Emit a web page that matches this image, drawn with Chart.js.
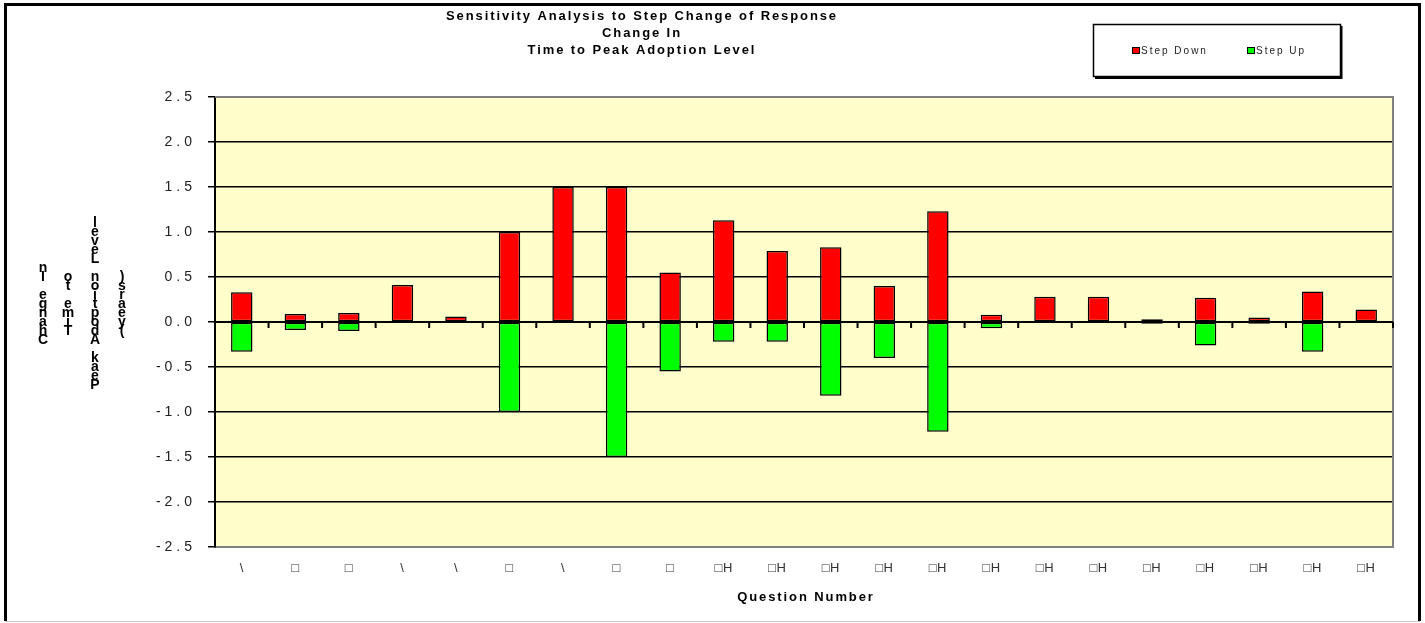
<!DOCTYPE html>
<html>
<head>
<meta charset="utf-8">
<script src="https://cdn.jsdelivr.net/npm/chart.js@4/dist/chart.umd.min.js"></script>
<style>
  html, body { margin: 0; padding: 0; background: #fff; }
  #wrap { width: 1425px; height: 623px; position: relative; }
</style>
</head>
<body>
<div id="wrap"><canvas id="chart"></canvas></div>
<script>
// question labels as they show up in the source picture (broken glyphs)
const questions = ['\\', '\u25A1', '\u25A1', '\\', '\\', '\u25A1', '\\', '\u25A1', '\u25A1',
    '\u25A1H', '\u25A1H', '\u25A1H', '\u25A1H', '\u25A1H', '\u25A1H', '\u25A1H',
    '\u25A1H', '\u25A1H', '\u25A1H', '\u25A1H', '\u25A1H', '\u25A1H'];

const stepDown = [0.33, 0.09, 0.10, 0.41, 0.06, 1.00, 1.50, 1.50, 0.55, 1.13, 0.79,
    0.83, 0.40, 1.23, 0.08, 0.28, 0.28, 0.03, 0.27, 0.05, 0.34, 0.14];
const stepUp = [-0.33, -0.09, -0.10, null, null, -1.00, null, -1.50, -0.55, -0.22, -0.22,
    -0.82, -0.40, -1.22, -0.07, null, null, -0.02, -0.26, -0.02, -0.33, null];

const titleLines = ['Sensitivity Analysis to Step Change of Response', 'Change In', 'Time to Peak Adoption Level'];
const yTitleCols = ['Change In', 'Time to', 'Peak Adoption Level', '(years)'];
const xTitle = 'Question Number';

const FONT = 'Arial, "Liberation Sans", sans-serif';

const decor = {
    id: 'decor',
    beforeDraw(chart) {
        const { ctx, chartArea: a } = chart;
        ctx.save();
        ctx.fillStyle = '#ffffff';
        ctx.fillRect(0, 0, chart.width, chart.height);
        ctx.fillStyle = '#FFFFCC';
        ctx.fillRect(a.left, a.top, a.right - a.left, a.bottom - a.top);
        ctx.restore();
        // spacing for the value axis labels
        ctx.letterSpacing = '4px';
    },
    beforeDatasetsDraw(chart) {
        const { ctx, chartArea: a, scales } = chart;
        ctx.save();
        ctx.letterSpacing = '0px';
        // plot frame (grey) on top and right
        ctx.strokeStyle = '#808080';
        ctx.lineWidth = 2;
        ctx.beginPath();
        ctx.moveTo(a.left, a.top);
        ctx.lineTo(a.right, a.top);
        ctx.lineTo(a.right, a.bottom);
        ctx.stroke();
        // category axis crossing at zero, with ticks between categories
        const y0 = scales.y.getPixelForValue(0);
        ctx.strokeStyle = '#000';
        ctx.lineWidth = 2;
        ctx.beginPath();
        ctx.moveTo(a.left, y0);
        ctx.lineTo(a.right, y0);
        const n = questions.length;
        for (let i = 1; i <= n; i++) {
            const x = i < n
                ? (scales.x.getPixelForValue(i - 1) + scales.x.getPixelForValue(i)) / 2
                : a.right;
            ctx.moveTo(x, y0);
            ctx.lineTo(x, y0 + 6);
        }
        ctx.stroke();
        ctx.restore();
        // x tick labels are drawn after datasets (ticks.z = 1), tighter
        ctx.letterSpacing = '0.5px';
    },
    afterDraw(chart) {
        const { ctx, chartArea: a } = chart;
        ctx.save();
        ctx.fillStyle = '#000';
        ctx.textAlign = 'center';
        ctx.textBaseline = 'middle';

        // title
        ctx.font = 'bold 13px ' + FONT;
        ctx.letterSpacing = '1.9px';
        titleLines.forEach((t, i) => ctx.fillText(t, 642, 16 + i * 17));

        // x title
        ctx.fillText(xTitle, (a.left + a.right) / 2 + 2, 597);

        // y title, stacked letters
        ctx.letterSpacing = '0px';
        ctx.font = 'bold 14px ' + FONT;
        const colX = [43, 68, 95, 122];
        yTitleCols.forEach((s, c) => {
            const chars = s.split('');
            const step = 9;
            const yc = 304;
            chars.forEach((ch, i) => {
                const y = yc + ((chars.length - 1) / 2) * step - i * step;
                ctx.fillText(ch, colX[c], y);
            });
        });

        // legend box
        ctx.lineWidth = 1;
        ctx.strokeStyle = '#000';
        ctx.fillStyle = '#fff';
        ctx.fillRect(1093, 24, 247, 53);
        ctx.lineWidth = 1.5;
        ctx.strokeRect(1093.5, 24.5, 247, 52);
        ctx.lineWidth = 2;
        ctx.beginPath();
        ctx.moveTo(1095, 78);
        ctx.lineTo(1341.5, 78);
        ctx.lineTo(1341.5, 26);
        ctx.stroke();

        ctx.font = '10px ' + FONT;
        ctx.letterSpacing = '2px';
        ctx.textAlign = 'left';
        chart.data.datasets.forEach((ds, i) => {
            const x = i === 0 ? 1133 : 1248;
            ctx.fillStyle = ds.backgroundColor;
            ctx.fillRect(x, 48, 6, 5);
            ctx.lineWidth = 1;
            ctx.strokeStyle = '#000';
            ctx.strokeRect(x - 0.5, 47.5, 7, 6);
            ctx.fillStyle = '#222';
            ctx.fillText(ds.label, x + 8, 51);
        });

        // outer border
        ctx.letterSpacing = '0px';
        ctx.strokeStyle = '#000';
        ctx.lineWidth = 3;
        ctx.beginPath();
        ctx.moveTo(5.5, 621);
        ctx.lineTo(5.5, 4.5);
        ctx.lineTo(1419.5, 4.5);
        ctx.lineTo(1419.5, 621);
        ctx.stroke();
        ctx.strokeStyle = '#c8c8c8';
        ctx.lineWidth = 1;
        ctx.beginPath();
        ctx.moveTo(5, 621.5);
        ctx.lineTo(1420, 621.5);
        ctx.stroke();
        ctx.restore();
    }
};

const ctx = document.getElementById('chart').getContext('2d');
new Chart(ctx, {
    type: 'bar',
    data: {
        labels: questions,
        datasets: [
            {
                label: 'Step Down',
                data: stepDown,
                backgroundColor: '#FF0000',
                borderColor: '#000',
                borderWidth: 1.5,
                borderSkipped: false,
                barPercentage: 0.4,
                categoryPercentage: 1.0
            },
            {
                label: 'Step Up',
                data: stepUp,
                backgroundColor: '#00FF00',
                borderColor: '#000',
                borderWidth: 1.5,
                borderSkipped: false,
                barPercentage: 0.4,
                categoryPercentage: 1.0
            }
        ]
    },
    options: {
        responsive: true,
        maintainAspectRatio: false,
        animation: false,
        layout: {
            padding: { left: 0, top: 97, right: 32, bottom: 0 }
        },
        plugins: {
            legend: { display: false },
            title: { display: false },
            tooltip: { enabled: false }
        },
        scales: {
            x: {
                stacked: true,
                afterFit: (s) => { s.height = 76; },
                grid: { display: false, drawTicks: false },
                border: { display: true, color: '#808080', width: 2 },
                ticks: {
                    z: 1,
                    color: '#333',
                    font: { family: FONT, size: 13 },
                    padding: 14,
                    maxRotation: 0,
                    autoSkip: false
                }
            },
            y: {
                stacked: true,
                min: -2.5,
                max: 2.5,
                afterFit: (s) => { s.width = 215; },
                grid: {
                    color: (c) => (c.tick.value === 2.5 || c.tick.value === -2.5) ? '#808080' : '#000',
                    lineWidth: 1.5,
                    tickColor: '#000',
                    tickLength: 7,
                    drawTicks: true
                },
                border: { display: true, color: '#000', width: 2 },
                ticks: {
                    stepSize: 0.5,
                    color: '#222',
                    padding: 12,
                    font: { family: FONT, size: 14 },
                    callback: (v) => v.toFixed(1)
                }
            }
        }
    },
    plugins: [decor]
});
</script>
</body>
</html>
